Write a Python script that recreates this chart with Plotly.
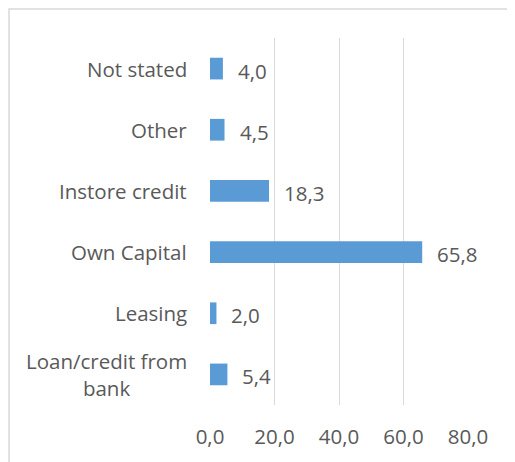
import plotly.graph_objects as go

categories = ["Not stated", "Other", "Instore credit", "Own Capital", "Leasing", "Loan/credit from<br>bank"]
values = [4.0, 4.5, 18.3, 65.8, 2.0, 5.4]
tick_values = [0, 20, 40, 60, 80]

FONT = "Open Sans"
GREY = "#595959"
FS = 20.5

fig = go.Figure()
fig.add_trace(go.Bar(
    y=categories, x=values, orientation="h",
    marker=dict(color="#5b9bd5", line=dict(width=0)),
    hoverinfo="skip",
))

annotations = []
for c, v in zip(categories, values):
    annotations.append(dict(
        x=v, y=c, xref="x", yref="y", text=f"{v:.1f}".replace(".", ","),
        showarrow=False, xanchor="left", yanchor="middle", xshift=13, yshift=-2,
        font=dict(family=FONT, size=FS, color=GREY),
    ))
    annotations.append(dict(
        x=0, y=c, xref="paper", yref="y", text=c, align="center",
        showarrow=False, xanchor="right", yanchor="middle", xshift=-21,
        font=dict(family=FONT, size=FS, color=GREY),
    ))

fig.update_layout(
    width=515, height=462,
    margin=dict(l=202, r=55, t=30, b=65),
    paper_bgcolor="white", plot_bgcolor="white",
    separators=", ",
    showlegend=False,
    bargap=0.645,
    annotations=annotations,
    shapes=[dict(type="rect", xref="paper", yref="paper",
                 x0=-0.779, x1=1.4, y0=-0.4, y1=1.079,
                 line=dict(color="#d9d9d9", width=1.5), fillcolor="rgba(0,0,0,0)", layer="below")],
    xaxis=dict(
        range=[0, 80], tickvals=tick_values, tickformat=".1f",
        showgrid=True, gridcolor="#d9d9d9", gridwidth=1.3,
        zeroline=False, showline=False,
        ticks="outside", ticklen=13, tickcolor="rgba(0,0,0,0)",
        tickfont=dict(family=FONT, size=FS, color=GREY),
    ),
    yaxis=dict(
        autorange="reversed", showticklabels=False, showgrid=False,
        zeroline=False, showline=False,
    ),
)

fig.write_html("out.html")
